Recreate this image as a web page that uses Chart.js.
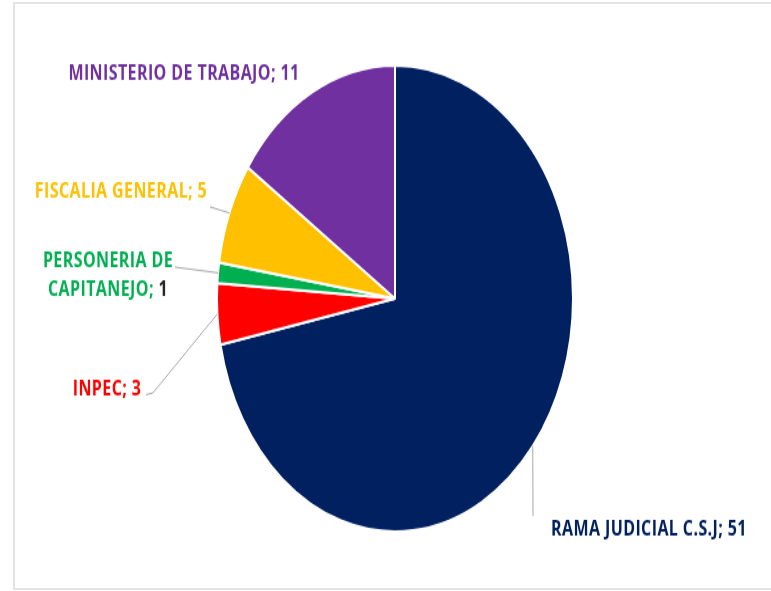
<!DOCTYPE html>
<html>
<head>
<meta charset="utf-8">
<script src="https://cdn.jsdelivr.net/npm/chart.js@4.4.1/dist/chart.umd.min.js"></script>
<style>
  html, body { margin: 0; padding: 0; background: #fff; overflow: hidden; }
  #frame { position: absolute; left: 13px; top: 2px; width: 800px; height: 588px;
           border: 2px solid #e3e3e3; box-sizing: border-box; }
  /* the reference is stretched vertically, so the chart is drawn flat and scaled */
  #wrap { position: absolute; left: 0; top: 0; width: 771px; height: 451px;
          transform: scaleY(1.3094); transform-origin: 0 0; }
</style>
</head>
<body>
<div id="frame"></div>
<div id="wrap"><canvas id="pieChart"></canvas></div>
<script>
// Data
const labels = ['RAMA JUDICIAL C.S.J', 'INPEC', 'PERSONERIA DE CAPITANEJO', 'FISCALIA GENERAL', 'MINISTERIO DE TRABAJO'];
const values = [51, 3, 1, 5, 11];
const colors = ['#002060', '#FF0000', '#00B050', '#FFC000', '#7030A0'];
const valueColors = ['#002060', '#FF0000', '#262626', '#FFC000', '#7030A0'];
const labelLines = [['RAMA JUDICIAL C.S.J'], ['INPEC'], ['PERSONERIA DE', 'CAPITANEJO'], ['FISCALIA GENERAL'], ['MINISTERIO DE TRABAJO']];

// Label placement (unscaled canvas px): text centre and leader line points
const labelPos = [
    { x: 649, y: 404, leader: [[533, 394]] },
    { x: 107, y: 297.5, leader: [[153, 300], [146, 301.5]] },
    { x: 108, y: 199.7, leader: [[175, 204]] },
    { x: 121, y: 146, leader: [[210, 158]] },
    { x: 184, y: 56, leader: [] }
];
const lineHeight = 21.8;
const labelFont = 'bold 16px "Open Sans"';

const outsideLabels = {
    id: 'outsideLabels',
    afterDatasetsDraw(chart) {
        const ctx = chart.ctx;
        const arcs = chart.getDatasetMeta(0).data;
        ctx.save();
        arcs.forEach((arc, i) => {
            const p = arc.getProps(['x', 'y', 'startAngle', 'endAngle', 'outerRadius'], true);
            const mid = (p.startAngle + p.endAngle) / 2;
            const pos = labelPos[i];
            // leader line
            if (pos.leader.length) {
                ctx.strokeStyle = '#a6a6a6';
                ctx.lineWidth = 1;
                ctx.beginPath();
                ctx.moveTo(p.x + Math.cos(mid) * p.outerRadius, p.y + Math.sin(mid) * p.outerRadius);
                pos.leader.forEach(pt => ctx.lineTo(pt[0], pt[1]));
                ctx.stroke();
            }
            // text
            ctx.font = labelFont;
            ctx.letterSpacing = '0.4px';
            ctx.textBaseline = 'middle';
            ctx.textAlign = 'left';
            const lines = labelLines[i];
            lines.forEach((txt, j) => {
                const parts = [{ t: txt, c: colors[i] }];
                if (j === lines.length - 1) {
                    parts[0].t += '; ';
                    parts.push({ t: String(values[i]), c: valueColors[i] });
                }
                const w = parts.reduce((s, pt) => s + ctx.measureText(pt.t).width, 0);
                let x = pos.x - w / 2;
                const y = pos.y + j * lineHeight;
                parts.forEach(pt => {
                    ctx.fillStyle = pt.c;
                    ctx.fillText(pt.t, x, y);
                    x += ctx.measureText(pt.t).width;
                });
            });
        });
        ctx.restore();
    }
};

new Chart(document.getElementById('pieChart'), {
    type: 'pie',
    data: {
        labels: labels,
        datasets: [{
            data: values,
            backgroundColor: colors,
            borderColor: '#ffffff',
            borderWidth: 2
        }]
    },
    options: {
        responsive: true,
        maintainAspectRatio: false,
        animation: false,
        layout: { padding: { left: 19, right: 0, top: 49, bottom: 44 } },
        plugins: {
            legend: { display: false },
            tooltip: { enabled: false }
        }
    },
    plugins: [outsideLabels]
});
</script>
</body>
</html>
